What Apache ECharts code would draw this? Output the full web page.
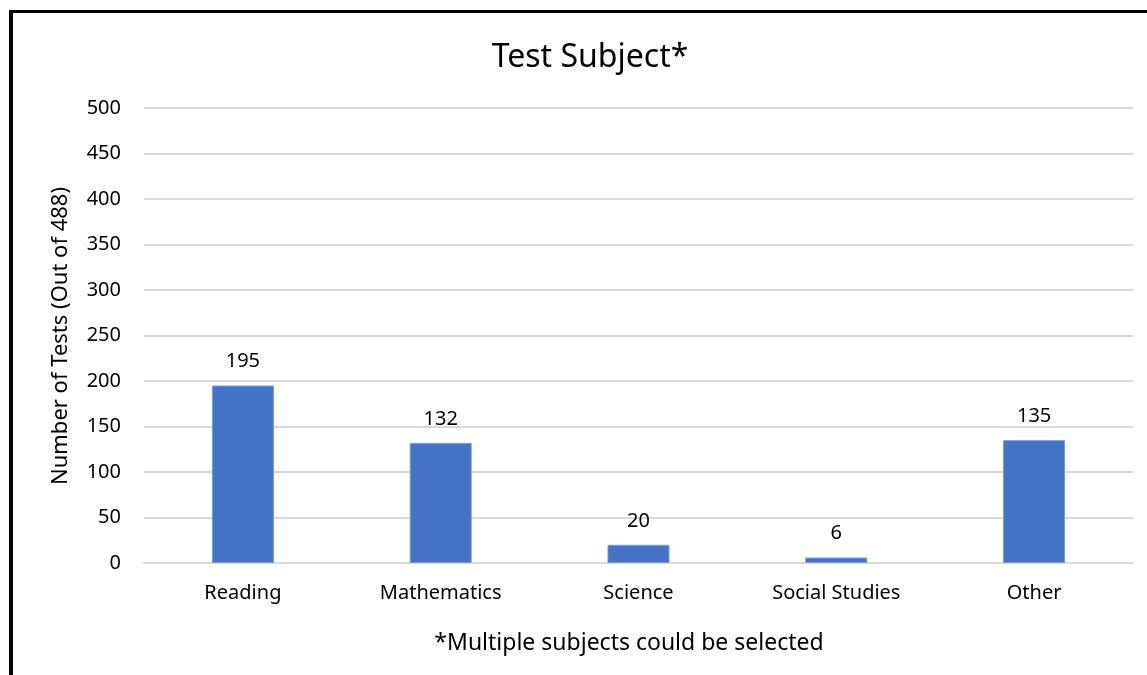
<!DOCTYPE html>
<html>
<head>
<meta charset="utf-8">
<script src="https://cdn.jsdelivr.net/npm/echarts@6/dist/echarts.min.js"></script>
<style>
  body { margin: 0; background: #fff; }
  #wrap { position: relative; width: 1147px; height: 675px; }
  #chart { width: 1147px; height: 675px; }
  /* black frame on the left and top edges, like the source */
  #frame {
    position: absolute; left: 9px; top: 10px; right: 0; bottom: 0;
    border-left: 4px solid #000; border-top: 3px solid #000;
    pointer-events: none;
  }
</style>
</head>
<body>
<div id="wrap">
  <div id="chart"></div>
  <div id="frame"></div>
</div>
<script>
// data
var subjects = ["Reading", "Mathematics", "Science", "Social Studies", "Other"];
var testCounts = [195, 132, 20, 6, 135];
var yTicks = [0, 50, 100, 150, 200, 250, 300, 350, 400, 450, 500];
var yTitle = "Number of Tests (Out of 488)";

var font = "Noto Sans";
var myChart = echarts.init(document.getElementById("chart"));
myChart.setOption({
  animation: false,
  title: [
    {
      text: "Test Subject*",
      left: 585,
      top: 37,
      textAlign: "center",
      textStyle: { fontFamily: font, fontSize: 32, fontWeight: "normal", color: "#000" }
    },
    {
      text: "*Multiple subjects could be selected",
      left: 624,
      top: 627,
      textAlign: "center",
      textStyle: { fontFamily: font, fontSize: 23, fontWeight: "normal", color: "#000" }
    }
  ],
  // rotated y axis title
  graphic: [
    {
      type: "text",
      x: 61,
      y: 336,
      rotation: Math.PI / 2,
      style: {
        text: yTitle,
        fontFamily: font,
        fontSize: 22,
        fill: "#000",
        textAlign: "center",
        textVerticalAlign: "middle"
      }
    }
  ],
  grid: { left: 144, right: 14, top: 108, bottom: 112, containLabel: false },
  xAxis: {
    type: "category",
    data: subjects,
    axisTick: { show: false },
    axisLine: { lineStyle: { color: "#d9d9d9", width: 2 } },
    axisLabel: { margin: 20, fontFamily: font, fontSize: 20, color: "#000" }
  },
  yAxis: {
    type: "value",
    min: yTicks[0],
    max: yTicks[yTicks.length - 1],
    interval: 50,
    axisLine: { show: false },
    axisTick: { show: false },
    axisLabel: { margin: 23, fontFamily: font, fontSize: 20, color: "#000" },
    splitLine: { lineStyle: { color: "#d9d9d9", width: 2 } }
  },
  series: [
    {
      type: "bar",
      data: testCounts,
      barWidth: 62,
      itemStyle: { color: "#4472c4", borderColor: "#7a9ad6", borderWidth: 1 },
      label: {
        show: true,
        position: "top",
        distance: 14,
        fontFamily: font,
        fontSize: 20,
        color: "#000"
      }
    }
  ]
});
</script>
</body>
</html>
